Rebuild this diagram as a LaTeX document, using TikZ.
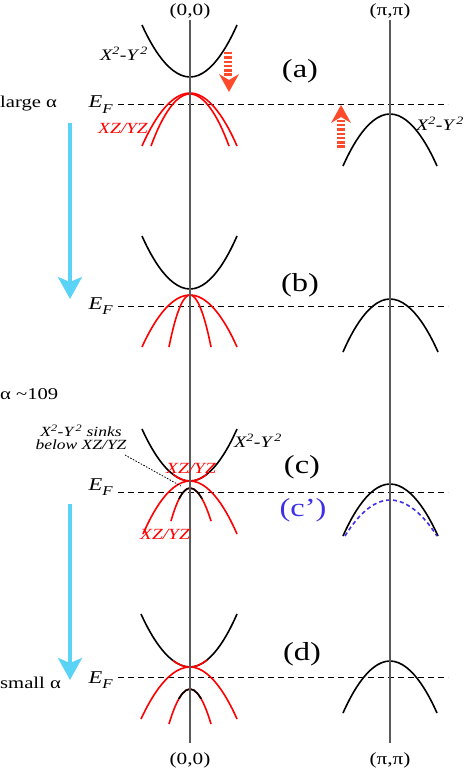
\documentclass[tikz,border=0pt]{standalone}
\usepackage{fontspec}
\setmainfont[FakeStretch=1.25]{Liberation Serif}
\usetikzlibrary{arrows.meta}
\definecolor{axisgray}{HTML}{5A5A5A}
\definecolor{bandred}{HTML}{FF0000}
\definecolor{arrowcyan}{HTML}{5AD3F7}
\definecolor{arroworange}{HTML}{FF4B2B}
\definecolor{cblue}{HTML}{3F30E8}
\newcommand{\fsz}[1]{\fontsize{#1}{#1}\selectfont}
\newcommand{\EFermi}{E\raisebox{-0.28em}{\fsz{13.5}F}}
\newcommand{\XYorb}{X\textsuperscript{2}-Y\,\textsuperscript{2}}
\begin{document}
\begin{tikzpicture}[x=1pt,y=-1pt,
  axisline/.style={axisgray, line width=1.3pt},
  band/.style={black, line width=1.6pt},
  redband/.style={bandred, line width=1.6pt},
  fermi/.style={black, line width=0.8pt, dash pattern=on 6pt off 4pt},
  axlabel/.style={inner sep=0pt, font=\fsz{17}},
  panel/.style={inner sep=0pt, font=\fsz{26}},
  sidelabel/.style={inner sep=0pt, anchor=west, font=\fsz{16.5}},
  eflabel/.style={inner sep=0pt, anchor=base east, font=\fsz{18}\itshape},
  orblabel/.style={inner sep=0pt, font=\fsz{16}\itshape},
  redlabel/.style={inner sep=0pt, text=bandred, font=\fsz{15.5}\itshape},
  stripe/.style={arroworange, line width=8pt, dash pattern=on 2.5pt off 1.8pt},
  cyanarrow/.style={arrowcyan, line width=3.5pt, -{Stealth[length=22pt, width=24pt, inset=5pt]}}
]
\useasboundingbox (0,0) rectangle (463,770);

% Fermi levels
\draw[fermi] (118,104) -- (448,104);
\draw[fermi] (118,306) -- (448,306);
\draw[fermi] (118,492) -- (448,492);
\draw[fermi] (118,677) -- (448,677);

% ---- panel (a)
\draw[band] (142,25) parabola bend (190,77) (237,25);
\draw[redband] (142,146) parabola bend (190,93) (237,146);
\draw[redband] (151,146) parabola bend (190,94) (229,146);
\draw[band] (343,166) parabola bend (390,114) (437,166);

% ---- panel (b)
\draw[band] (142,236) parabola bend (190,289) (237,236);
\draw[redband] (142,347) parabola bend (190,295) (237,347);
\draw[redband] (169,347) parabola bend (190,295) (211,347);
\draw[band] (343,352) parabola bend (390,299) (438,352);

% ---- panel (c)
\draw[band] (142,429) parabola bend (190,481) (237,429);
\begin{scope}
  \clip (173,0) rectangle (207,770);
  \draw[redband] (142,429) parabola bend (190,481) (237,429);
\end{scope}
\draw[redband] (143,534) parabola bend (190,481) (237,534);
\draw[redband] (171,521) parabola bend (190,488) (211,521);
\begin{scope}
  \clip (0,0) rectangle (463,498);
  \draw[band] (171,521) parabola bend (190,488) (211,521);
\end{scope}
\draw[band] (343,536) parabola bend (390,484) (438,536);
\draw[cblue, line width=1.6pt, dash pattern=on 4pt off 3pt] (345,536) parabola bend (390,500) (437,536);

% ---- panel (d)
\draw[band] (141,614) parabola bend (190,667) (237,614);
\begin{scope}
  \clip (173,0) rectangle (207,770);
  \draw[redband] (141,614) parabola bend (190,667) (237,614);
\end{scope}
\draw[redband] (141,719) parabola bend (190,667) (237,719);
\draw[redband] (169,724) parabola bend (190,689) (211,724);
\begin{scope}
  \clip (0,0) rectangle (463,698);
  \draw[band] (169,724) parabola bend (190,689) (211,724);
\end{scope}
\draw[band] (343,713) parabola bend (390,661) (437,713);

% axes
\node[axlabel] (top00) at (190,11) {(0,0)};
\node[axlabel] (toppi) at (390,11) {(π,π)};
\node[axlabel] (bot00) at (190,760) {(0,0)};
\node[axlabel] (botpi) at (390,760) {(π,π)};
\coordinate (ax0top) at (190,20);
\coordinate (ax0bot) at (190,743);
\coordinate (axpitop) at (390,20);
\coordinate (axpibot) at (390,743);
\draw[axisline] (ax0top) -- (ax0bot);
\draw[axisline] (axpitop) -- (axpibot);

% E_F labels
\node[eflabel] (efa) at (113,108) {\EFermi};
\node[eflabel] (efb) at (113,309) {\EFermi};
\node[eflabel] (efc) at (113,490) {\EFermi};
\node[eflabel] (efd) at (113,683) {\EFermi};

% panel labels
\node[panel] (pa) at (300,71) {(a)};
\node[panel] (pb) at (300,285) {(b)};
\node[panel] (pc) at (302,467) {(c)};
\node[panel, text=cblue] (pcp) at (303,510) {(c')};
\node[panel] (pd) at (302,654) {(d)};

% orbital labels
\node[orblabel] (xya) at (124,54) {\XYorb};
\node[orblabel] (xypi) at (440,124) {\XYorb};
\node[orblabel] (xyc) at (258,441) {\XYorb};
\node[redlabel] (xza) at (123,128) {XZ/YZ};
\node[redlabel] (xzcu) at (191,468) {XZ/YZ};
\node[redlabel] (xzcl) at (165,534) {XZ/YZ};

% annotation
\node[inner sep=0pt, align=center, font=\fsz{14}\itshape] (sinks) at (81,437)
  {\XYorb{} sinks\\[-1pt]below XZ/YZ};
\coordinate (sinkstart) at (125,455);
\coordinate (sinkend) at (181,486);
\draw[black, line width=0.8pt, dash pattern=on 1.5pt off 1.5pt] (sinkstart) -- (sinkend);

% side labels
\node[sidelabel] (large) at (0,104) {large α};
\node[sidelabel] (alpha) at (0,394) {α \textasciitilde109};
\node[sidelabel] (small) at (0,683) {small α};

% cyan arrows
\coordinate (c1s) at (70,123);
\coordinate (c1e) at (70,299);
\coordinate (c2s) at (70,504);
\coordinate (c2e) at (70,680);
\draw[cyanarrow] (c1s) -- (c1e);
\draw[cyanarrow] (c2s) -- (c2e);

% orange striped arrows
\coordinate (o1s) at (228,52);
\coordinate (o1e) at (228,77);
\draw[stripe] (o1s) -- (o1e);
\fill[arroworange] (229,92) -- (219,74) -- (229,80) -- (239,74) -- cycle;
\coordinate (o2s) at (341,148);
\coordinate (o2e) at (341,119);
\draw[stripe] (o2s) -- (o2e);
\fill[arroworange] (341,105) -- (331,123) -- (341,117) -- (351,123) -- cycle;
\end{tikzpicture}
\end{document}
